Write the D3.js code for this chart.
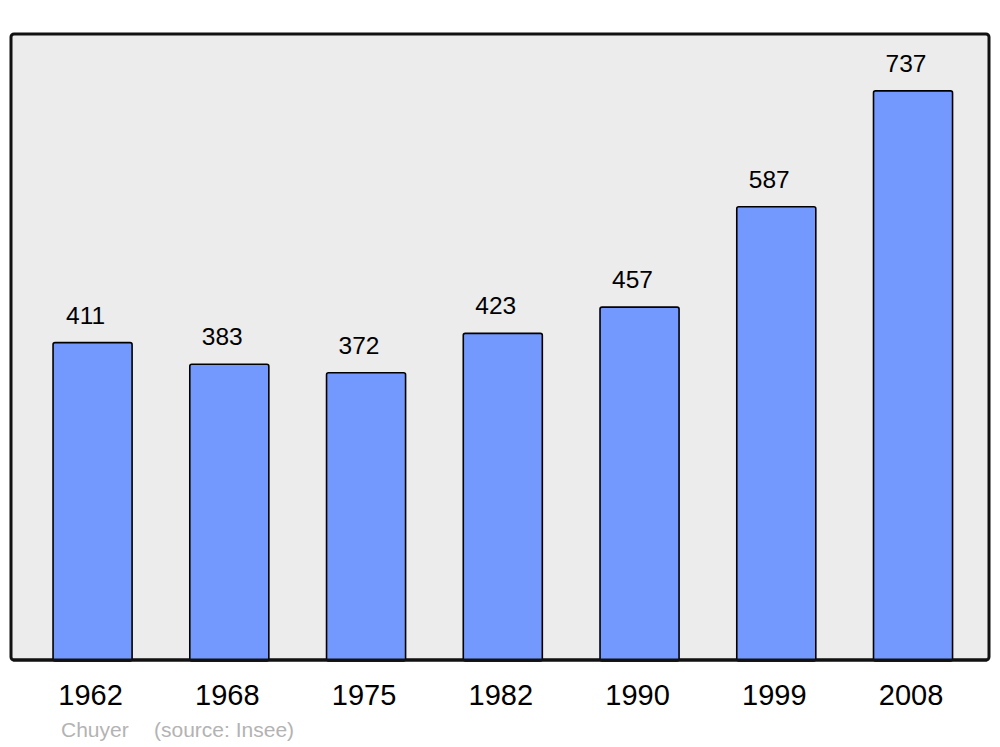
<!DOCTYPE html>
<html>
<head>
<meta charset="utf-8">
<script src="https://cdn.jsdelivr.net/npm/d3@7"></script>
<style>
  body { margin: 0; background: #fff; }
  text { font-family: "Liberation Sans", Arial, sans-serif; }
</style>
</head>
<body>
<script>
// population by census year
const years = ["1962", "1968", "1975", "1982", "1990", "1999", "2008"];
const population = [411, 383, 372, 423, 457, 587, 737];
const credit = ["Chuyer", "(source: Insee)"];

const width = 1000, height = 747;
const panel = { left: 11, top: 34, right: 989, bottom: 660 };

const svg = d3.select("body")
  .append("svg")
  .attr("width", width)
  .attr("height", height);

// background panel
svg.append("rect")
  .attr("x", panel.left)
  .attr("y", panel.top)
  .attr("width", panel.right - panel.left)
  .attr("height", panel.bottom - panel.top)
  .attr("rx", 3)
  .style("fill", "#ececec")
  .style("stroke", "#111")
  .style("stroke-width", 3);

const x = d3.scaleBand()
  .domain(years)
  .range([24.2, 981.4])
  .paddingInner(0.422)
  .paddingOuter(0.211);

const y = d3.scaleLinear()
  .domain([0, 737 * 1.1])
  .range([panel.bottom, panel.top]);

const data = years.map((yr, i) => ({ year: yr, value: population[i] }));

svg.selectAll(".bar")
  .data(data)
  .enter()
  .append("rect")
  .attr("class", "bar")
  .attr("x", d => x(d.year))
  .attr("y", d => y(d.value))
  .attr("width", x.bandwidth())
  .attr("height", d => panel.bottom - y(d.value) + 1)
  .attr("rx", 2)
  .style("fill", "#7399ff")
  .style("stroke", "#000")
  .style("stroke-width", 1.6);

// redraw bottom edge so it sits over bars
svg.append("line")
  .attr("x1", panel.left + 2)
  .attr("x2", panel.right - 2)
  .attr("y1", panel.bottom)
  .attr("y2", panel.bottom)
  .style("stroke", "#111")
  .style("stroke-width", 3);

svg.selectAll(".val")
  .data(data)
  .enter()
  .append("text")
  .attr("class", "val")
  .attr("x", d => x(d.year) + x.bandwidth() / 2 - 7)
  .attr("y", d => y(d.value) - 19)
  .attr("text-anchor", "middle")
  .style("font-size", "24.5px")
  .style("fill", "#000")
  .text(d => d.value);

// year labels
const axis = d3.axisBottom(x).tickSize(0).tickPadding(0);
const gx = svg.append("g")
  .attr("transform", `translate(0, ${panel.bottom})`)
  .call(axis);
gx.select(".domain").remove();
gx.selectAll("text")
  .attr("dy", null)
  .attr("y", 45)
  .attr("dx", -2)
  .style("font-size", "29px")
  .style("font-family", "'Liberation Sans', Arial, sans-serif")
  .style("fill", "#000");

svg.append("text")
  .attr("x", 61)
  .attr("y", 737)
  .style("font-size", "21px")
  .style("fill", "#b3b3b3")
  .text(credit[0]);

svg.append("text")
  .attr("x", 154)
  .attr("y", 737)
  .style("font-size", "21px")
  .style("fill", "#b3b3b3")
  .text(credit[1]);
</script>
</body>
</html>
